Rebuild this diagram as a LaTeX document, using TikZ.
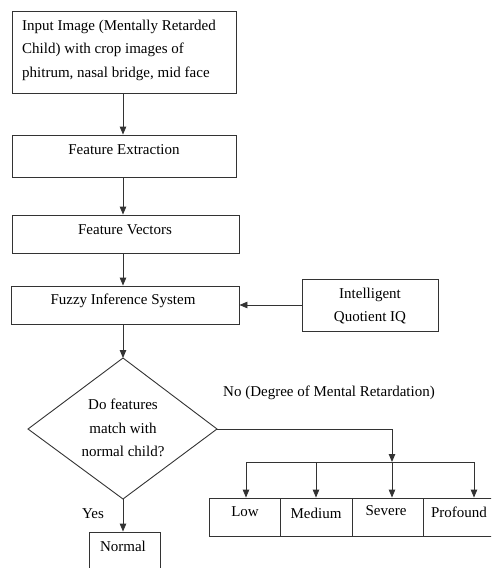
\documentclass[tikz,border=0pt]{standalone}
\usepackage{fontspec}
\setmainfont{Liberation Serif}
\usetikzlibrary{arrows.meta}
\tikzset{
  box/.style={draw=black!80, line width=0.9pt, rectangle, inner sep=0pt},
  txt/.style={font=\fontsize{15}{23.5}\selectfont, inner sep=0pt, text=black},
  conn/.style={draw=black!80, line width=0.9pt, -{Triangle[length=8pt,width=6.5pt]}},
  plain/.style={draw=black!80, line width=0.9pt},
}
\begin{document}
\begin{tikzpicture}[x=1pt,y=-1pt]
\useasboundingbox (0,0) rectangle (491,568);
\clip (0,0) rectangle (491,568);
% boxes
\node[box, minimum width=224pt, minimum height=82pt] (inp) at (124,52) {};
\node[txt, align=left, anchor=west] (inpt) at (22,50) {Input Image (Mentally Retarded\\Child) with crop images of\\phitrum, nasal bridge, mid face};
\node[box, minimum width=224pt, minimum height=42pt] (fe) at (124,156) {};
\node[txt] (fet) at (124,150) {Feature Extraction};
\node[box, minimum width=227pt, minimum height=38pt] (fv) at (125.5,234) {};
\node[txt] (fvt) at (125,230) {Feature Vectors};
\node[box, minimum width=228pt, minimum height=38pt] (fis) at (125,305) {};
\node[txt] (fist) at (123,301) {Fuzzy Inference System};
\node[box, minimum width=136pt, minimum height=52pt] (iq) at (370,305) {};
\node[txt, align=center] (iqt) at (370,306) {Intelligent\\Quotient IQ};
% diamond
\coordinate (dt) at (123,358);
\coordinate (dl) at (28,429);
\coordinate (dr) at (217,429);
\coordinate (db) at (123,499);
\draw[plain, line join=miter] (dt) -- (dr) -- (db) -- (dl) -- cycle;
\node[txt, align=center] (dtx) at (123,428) {Do features\\match with\\normal child?};
\node[txt] (no) at (329,393) {No (Degree of Mental Retardation)};
\node[txt] (yes) at (93,514) {Yes};
% bottom boxes
\node[box, minimum width=71pt, minimum height=38pt] (low) at (244.5,517) {};
\node[box, minimum width=72pt, minimum height=38pt] (med) at (316,517) {};
\node[box, minimum width=71pt, minimum height=38pt] (sev) at (387.5,517) {};
\node[box, minimum width=80pt, minimum height=38pt] (pro) at (463,517) {};
\node[txt] (lowt) at (245,512) {Low};
\node[txt] (medt) at (316,513) {Medium};
\node[txt] (sevt) at (386,511) {Severe};
\node[txt] (prot) at (459,512) {Profound};
\node[box, minimum width=71pt, minimum height=60pt] (nor) at (124.5,562) {};
\node[txt] (nort) at (123,546) {Normal};
% connectors
\draw[conn] (inp.south -| 123,0) -- (fe.north -| 123,0);
\draw[conn] (fe.south -| 123,0) -- (fv.north -| 123,0);
\draw[conn] (fv.south -| 123,0) -- (fis.north -| 123,0);
\draw[conn] (iq.west) -- (fis.east);
\draw[conn] (fis.south -| 123,0) -- (dt);
\draw[conn] (db) -- (nor.north -| 123,0);
\coordinate (bj) at (392,462);
\draw[conn] (dr) -| (bj);
\draw[plain] (246,462) -- (474,462);
\draw[conn] (246,462) -- (low.north -| 246,0);
\draw[conn] (316,462) -- (med.north -| 316,0);
\draw[conn] (392,462) -- (sev.north -| 392,0);
\draw[conn] (474,462) -- (pro.north -| 474,0);
\end{tikzpicture}
\end{document}
